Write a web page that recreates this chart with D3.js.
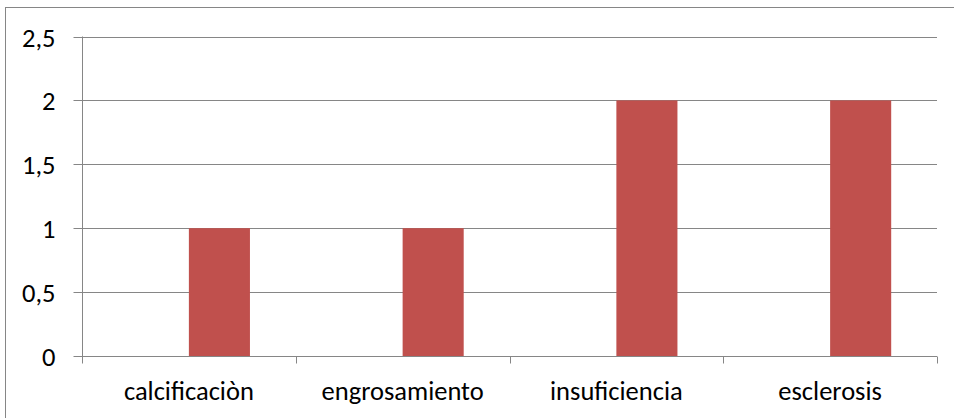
<!DOCTYPE html>
<html>
<head>
<meta charset="utf-8">
<script src="https://cdn.jsdelivr.net/npm/d3@7"></script>
<style>
  html, body { margin: 0; padding: 0; background: #fff; }
  svg { display: block; }
  text { font-family: Carlito, Lato, "Open Sans", sans-serif; fill: #000; }
</style>
</head>
<body>
<svg id="chart" width="954" height="418"></svg>
<script>
// Categories and counts
const categories = ["calcificaciòn", "engrosamiento", "insuficiencia", "esclerosis"];
// Two series slots per category; only the second carries values
const seriesSlots = ["Serie1", "Serie2"];
const values = [1, 1, 2, 2];
const yTicks = [0, 0.5, 1, 1.5, 2, 2.5];
const yTickLabels = ["0", "0,5", "1", "1,5", "2", "2,5"];

const W = 954, H = 418;
const FONT = 26.5;
const plot = { left: 82, right: 937, top: 36.5, bottom: 356 };
const svg = d3.select("#chart");

// Frame around the chart area
svg.append("rect")
  .attr("x", 5.5).attr("y", 7.5)
  .attr("width", W).attr("height", H)
  .attr("fill", "none").attr("stroke", "#868686").attr("stroke-width", 1);

const x = d3.scaleBand().domain(categories)
  .range([plot.left, plot.right]).paddingInner(0).paddingOuter(0);

// Gap width of 150%: two bars share 2/(2+1.5) of a category
const gap = 1.5;
const x1 = d3.scaleBand().domain(seriesSlots)
  .range([0, x.bandwidth()])
  .paddingInner(0)
  .paddingOuter(gap / 2);

const y = d3.scaleLinear().domain([0, 2.5]).range([plot.bottom, plot.top]);

// Horizontal gridlines
svg.append("g")
  .selectAll("line")
  .data(yTicks.filter(d => d > 0))
  .join("line")
  .attr("x1", plot.left).attr("x2", plot.right)
  .attr("y1", d => Math.round(y(d)) + 0.5).attr("y2", d => Math.round(y(d)) + 0.5)
  .attr("stroke", "#868686").attr("stroke-width", 1);

// Bars
svg.append("g")
  .selectAll("rect")
  .data(values)
  .join("rect")
  .attr("x", (d, i) => x(categories[i]) + x1("Serie2"))
  .attr("width", x1.bandwidth())
  .attr("y", d => y(d))
  .attr("height", d => y(0) - y(d))
  .attr("fill", "#C0504D");

// Y axis
const yAxis = d3.axisLeft(y)
  .tickValues(yTicks)
  .tickFormat((d, i) => yTickLabels[i])
  .tickSize(9)
  .tickPadding(18);
const gy = svg.append("g")
  .attr("transform", `translate(${plot.left + 0.5},0)`)
  .call(yAxis);
gy.attr("font-family", null).attr("font-size", null);
gy.select(".domain").attr("stroke", "#868686").attr("d", `M0,${plot.top}V${plot.bottom}`);
gy.selectAll(".tick line").attr("stroke", "#868686");
gy.selectAll(".tick").attr("transform", d => `translate(0,${Math.round(y(d)) + 0.5})`);
gy.selectAll(".tick text").attr("font-size", FONT).attr("dy", "0.35em");

// X axis with ticks on category boundaries
const gx = svg.append("g")
  .attr("transform", `translate(0,${Math.round(y(0)) + 0.5})`);
gx.append("line")
  .attr("x1", plot.left).attr("x2", plot.right)
  .attr("stroke", "#868686");
const boundaries = categories.map(c => x(c)).concat([plot.right]);
gx.selectAll("line.tk")
  .data(boundaries)
  .join("line")
  .attr("class", "tk")
  .attr("x1", d => Math.round(d) + 0.5).attr("x2", d => Math.round(d) + 0.5)
  .attr("y1", 0).attr("y2", 7)
  .attr("stroke", "#868686");
gx.selectAll("text")
  .data(categories)
  .join("text")
  .attr("x", d => x(d) + x.bandwidth() / 2)
  .attr("y", 43.5)
  .attr("text-anchor", "middle")
  .attr("font-size", FONT)
  .text(d => d);
</script>
</body>
</html>
